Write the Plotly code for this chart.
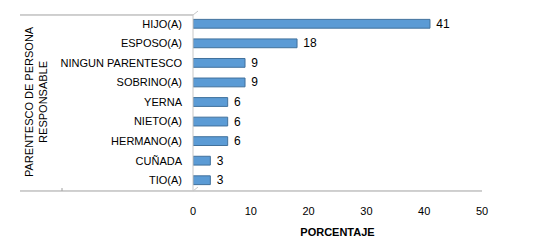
import plotly.graph_objects as go

categories = ["HIJO(A)", "ESPOSO(A)", "NINGUN PARENTESCO", "SOBRINO(A)", "YERNA",
              "NIETO(A)", "HERMANO(A)", "CUÑADA", "TIO(A)"]
values = [41, 18, 9, 9, 6, 6, 6, 3, 3]
x_ticks = [0, 10, 20, 30, 40, 50]

FONT = "Liberation Sans"
L, R, T, B = 193, 52, 14, 57
W, H = 534, 249
pw, ph = W - L - R, H - T - B

def px_x(p):
    return (p - L) / pw

def px_y(p):
    return (H - B - p) / ph

fig = go.Figure()
fig.add_trace(go.Bar(
    y=categories, x=values, orientation="h",
    marker=dict(color="#5B9BD5", line=dict(color="#41719C", width=1)),
    width=0.45,
    text=[" " + str(v) for v in values], textposition="outside",
    constraintext="none",
    textfont=dict(family=FONT, size=12, color="#000000"),
    cliponaxis=False,
))

fig.update_layout(
    width=W, height=H,
    margin=dict(l=L, r=R, t=T, b=B),
    paper_bgcolor="white", plot_bgcolor="white",
    showlegend=False,
    uniformtext=dict(mode=False),
    xaxis=dict(range=[0, 50], tickvals=x_ticks, showgrid=False, zeroline=False,
               showline=False, ticks="", ticklabelstandoff=13,
               tickfont=dict(family=FONT, size=11, color="#000"),
               title=dict(text="<b>PORCENTAJE</b>", font=dict(family=FONT, size=11, color="#000"),
                          standoff=12)),
    yaxis=dict(autorange="reversed", showgrid=False, zeroline=False, showline=False,
               ticks="", ticklabelstandoff=10,
               tickfont=dict(family=FONT, size=11, color="#000")),
    shapes=[
        dict(type="line", xref="paper", yref="paper", x0=px_x(20), x1=px_x(193),
             y0=px_y(15), y1=px_y(15), line=dict(color="#A0A0A0", width=1)),
        dict(type="line", xref="paper", yref="paper", x0=px_x(20), x1=px_x(482),
             y0=px_y(193), y1=px_y(193), line=dict(color="#A0A0A0", width=1)),
        dict(type="line", xref="paper", yref="paper", x0=px_x(193), x1=px_x(193),
             y0=px_y(15), y1=px_y(193), line=dict(color="#C8C8C8", width=1)),
        dict(type="line", xref="paper", yref="paper", x0=px_x(193), x1=px_x(198),
             y0=px_y(15), y1=px_y(11), line=dict(color="#C8C8C8", width=1)),
        dict(type="line", xref="paper", yref="paper", x0=px_x(193), x1=px_x(198),
             y0=px_y(193), y1=px_y(189), line=dict(color="#C8C8C8", width=1)),
        dict(type="line", xref="paper", yref="paper", x0=px_x(62), x1=px_x(62),
             y0=px_y(190), y1=px_y(193), line=dict(color="#A0A0A0", width=1)),
    ],
    annotations=[
        dict(text="PARENTESCO DE PERSONA<br>RESPONSABLE", xref="paper", yref="paper",
             x=px_x(36), y=px_y(103), textangle=-90, showarrow=False,
             font=dict(family=FONT, size=11, color="#000"), xanchor="center", yanchor="middle"),
    ],
)

fig.write_html("out.html")
